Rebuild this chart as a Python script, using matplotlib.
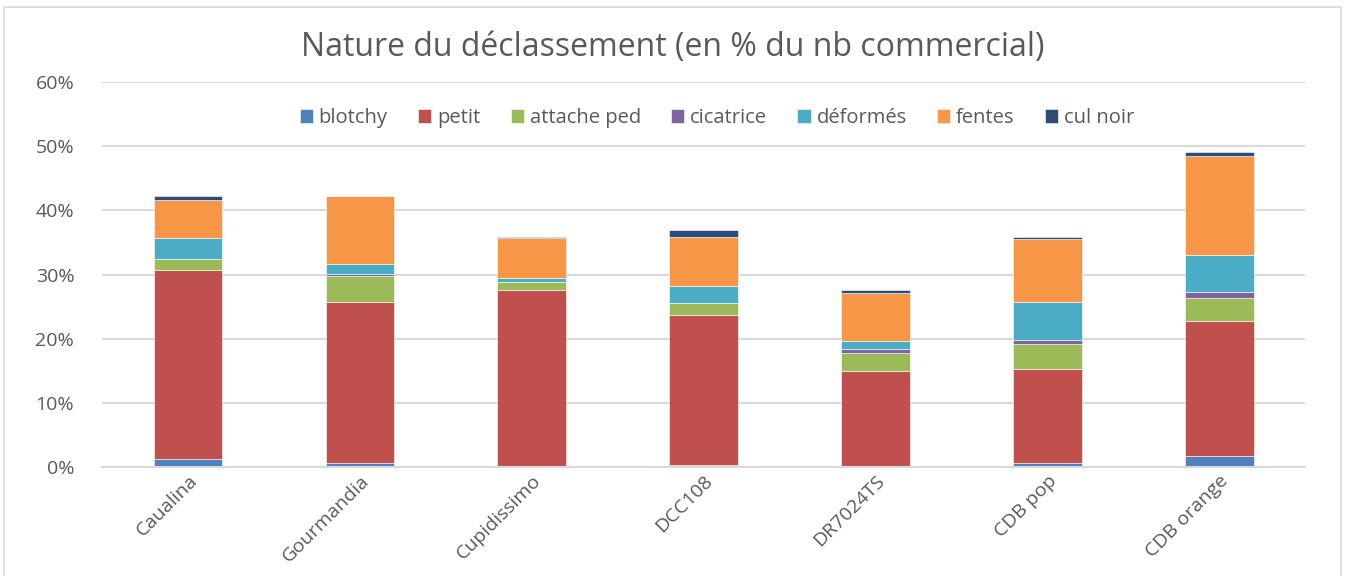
import matplotlib.pyplot as plt
import matplotlib.patches as mpatches
import numpy as np

categories = ['Caualina', 'Gourmandia', 'Cupidissimo', 'DCC108', 'DR7024TS', 'CDB pop', 'CDB orange']
blotchy = [1.19, 0.67, 0.10, 0.31, 0.05, 0.57, 1.66]
petit = [29.47, 25.11, 27.50, 23.32, 14.87, 14.66, 21.03]
attache_ped = [1.82, 4.05, 1.30, 1.91, 2.90, 3.89, 3.63]
cicatrice = [0.00, 0.26, 0.00, 0.00, 0.57, 0.67, 1.04]
deformes = [3.21, 1.61, 0.62, 2.65, 1.20, 5.96, 5.70]
fentes = [5.92, 10.53, 6.17, 7.61, 7.51, 9.74, 15.39]
cul_noir = [0.57, 0.00, 0.21, 1.14, 0.52, 0.31, 0.62]

series = [('blotchy', blotchy, '#4F81BD'),
          ('petit', petit, '#C0504D'),
          ('attache ped', attache_ped, '#9BBB59'),
          ('cicatrice', cicatrice, '#8064A2'),
          ('déformés', deformes, '#4BACC6'),
          ('fentes', fentes, '#F79646'),
          ('cul noir', cul_noir, '#2C4D75')]

plt.rcParams['font.family'] = ['Open Sans', 'DejaVu Sans']

fig = plt.figure(figsize=(13.46, 5.76), dpi=100)
ax = fig.add_axes([0.0758, 0.189, 0.894, 0.6686])

x = np.arange(len(categories))
bottom = np.zeros(len(categories))
for name, vals, col in series:
    vals = np.array(vals)
    ax.bar(x, vals, 0.4, bottom=bottom, color=col, label=name,
           edgecolor='white', linewidth=0.4)
    bottom += vals

ax.set_xlim(-0.5, len(categories) - 0.5)
ax.set_ylim(0, 60)
ax.set_yticks(np.arange(0, 61, 10))
ax.set_yticklabels([f'{v}%' for v in range(0, 61, 10)])
ax.yaxis.grid(True, color='#D9D9D9', linewidth=1.5)
ax.set_axisbelow(True)
for s in ['top', 'right', 'left']:
    ax.spines[s].set_visible(False)
ax.spines['bottom'].set_color('#D9D9D9')
ax.spines['bottom'].set_linewidth(1.5)
ax.tick_params(axis='both', length=0, colors='#595959', labelsize=14)
ax.tick_params(axis='y', pad=20)
ax.set_xticks(x)
ax.set_xticklabels(categories, rotation=45, ha='right', rotation_mode='anchor')

ax.legend(loc='center', bbox_to_anchor=(0.511, 0.906), ncol=7, frameon=False,
          fontsize=14.5, labelcolor='#595959', handlelength=0.65, handleheight=0.65,
          handletextpad=0.3, columnspacing=1.5)

fig.text(0.5, 0.918, 'Nature du déclassement (en % du nb commercial)',
         ha='center', va='center', fontsize=23, color='#595959')

fig.patches.append(mpatches.Rectangle((0.003, -0.01), 0.993, 0.998,
                                      transform=fig.transFigure, fill=False,
                                      edgecolor='#D9D9D9', linewidth=1.2))

plt.savefig('out.png', dpi=100)
